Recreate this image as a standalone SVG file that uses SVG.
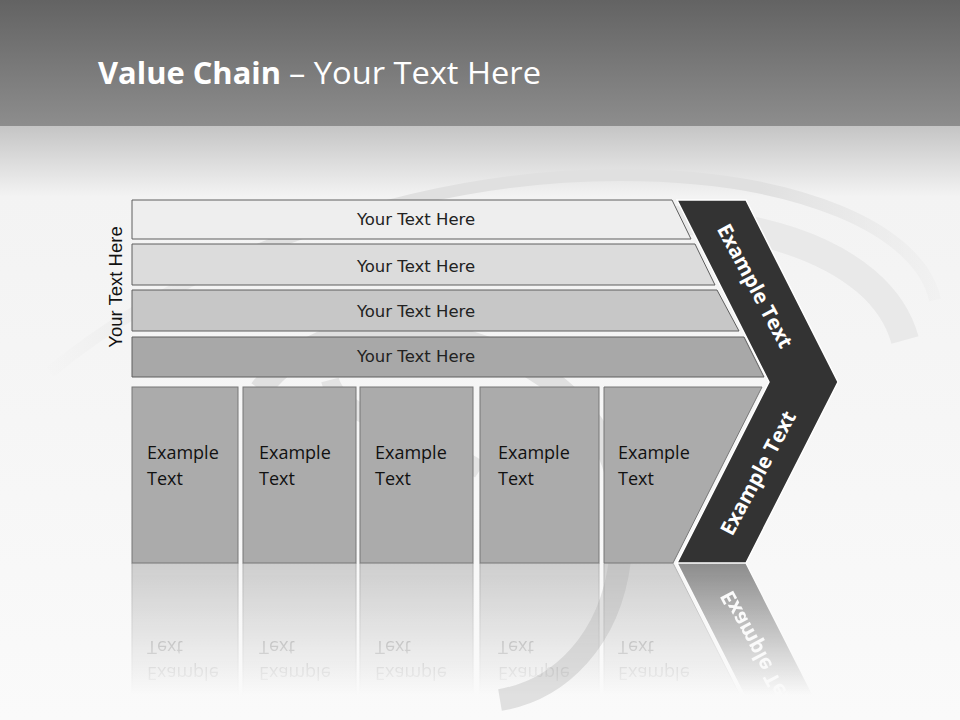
<svg xmlns="http://www.w3.org/2000/svg" xmlns:xlink="http://www.w3.org/1999/xlink" width="960" height="720" viewBox="0 0 960 720">
<defs>
<linearGradient id="hdr" x1="0" y1="0" x2="0" y2="1">
<stop offset="0" stop-color="#636363"/>
<stop offset="1" stop-color="#8d8d8d"/>
</linearGradient>
<linearGradient id="bg" x1="0" y1="125" x2="0" y2="720" gradientUnits="userSpaceOnUse">
<stop offset="0" stop-color="#c4c4c4"/>
<stop offset="0.12" stop-color="#f3f3f3"/>
<stop offset="1" stop-color="#fafafa"/>
</linearGradient>
<linearGradient id="fade" x1="0" y1="563" x2="0" y2="695" gradientUnits="userSpaceOnUse">
<stop offset="0" stop-color="#fff" stop-opacity="0.55"/>
<stop offset="1" stop-color="#fff" stop-opacity="0"/>
</linearGradient>
<linearGradient id="swirlfade" x1="40" y1="0" x2="940" y2="0" gradientUnits="userSpaceOnUse">
<stop offset="0" stop-color="#e6e6e6" stop-opacity="0"/>
<stop offset="0.25" stop-color="#e0e0e0"/>
<stop offset="0.8" stop-color="#e0e0e0"/>
<stop offset="1" stop-color="#e6e6e6" stop-opacity="0.2"/>
</linearGradient>
<mask id="refmask" maskUnits="userSpaceOnUse" x="0" y="563" width="960" height="157">
<rect x="0" y="563" width="960" height="157" fill="url(#fade)"/>
</mask>
<style>
.bar{stroke:#5e5e5e;stroke-width:1}
.box{fill:#ababab;stroke:#777;stroke-width:1}
.bt{font-family:"DejaVu Sans",Verdana,sans-serif;font-size:16.5px;fill:#222;text-anchor:middle}
.et{font-family:"Open Sans","Liberation Sans",sans-serif;font-size:18px;fill:#111}
.ct{font-family:"Open Sans","Liberation Sans",sans-serif;font-size:20.5px;font-weight:bold;fill:#fff;text-anchor:middle}
.swirl{fill:none}
</style>
</defs>
<rect x="0" y="0" width="960" height="720" fill="url(#bg)"/>
<rect x="0" y="0" width="960" height="126" fill="url(#hdr)"/>
<g id="background-swirls">
<path class="swirl" d="M 50 372 C 200 250 420 175 620 175 C 800 175 920 230 935 300" stroke="url(#swirlfade)" stroke-width="12"/>
<path class="swirl" d="M 560 222 C 740 205 880 250 905 340" stroke="#e9e9e9" stroke-width="28"/>
<path class="swirl" d="M 260 390 C 300 340 360 320 420 330 C 540 350 640 420 620 560 C 610 640 560 690 500 700" stroke="#e0e0e0" stroke-width="22"/>
<path class="swirl" d="M 330 380 C 340 420 420 430 480 470" stroke="#e3e3e3" stroke-width="18"/>
</g>
<text x="98" y="84" font-family="'Open Sans','Liberation Sans',sans-serif" font-size="31" font-weight="bold" fill="#fff" textLength="183" lengthAdjust="spacingAndGlyphs">Value Chain</text>
<text x="289" y="84" font-family="'Open Sans','Liberation Sans',sans-serif" font-size="31" fill="#fff" textLength="252" lengthAdjust="spacingAndGlyphs">– Your Text Here</text>
<text transform="translate(122,287) rotate(-90)" font-family="'Liberation Sans',Arial,sans-serif" font-size="18.5" fill="#111" text-anchor="middle">Your Text Here</text>
<g id="connectors"/>
<g id="bar-1"><polygon class="bar" fill="#eeeeee" points="132,200 672,200 691,239 132,239"/><text class="bt" x="416" y="225">Your Text Here</text></g>
<g id="bar-2"><polygon class="bar" fill="#dcdcdc" points="132,244 695,244 715,285 132,285"/><text class="bt" x="416" y="272">Your Text Here</text></g>
<g id="bar-3"><polygon class="bar" fill="#c7c7c7" points="132,290 717,290 739,331 132,331"/><text class="bt" x="416" y="317">Your Text Here</text></g>
<g id="bar-4"><polygon class="bar" fill="#a8a8a8" points="132,337 744,337 764,377 132,377"/><text class="bt" x="416" y="362">Your Text Here</text></g>
<g id="bottom-row">
<g id="box-1"><rect class="box" x="132" y="387" width="106" height="176"/><text class="et" x="147" y="459">Example</text><text class="et" x="147" y="485">Text</text></g>
<g id="box-2"><rect class="box" x="243" y="387" width="113" height="176"/><text class="et" x="259" y="459">Example</text><text class="et" x="259" y="485">Text</text></g>
<g id="box-3"><rect class="box" x="360" y="387" width="113" height="176"/><text class="et" x="375" y="459">Example</text><text class="et" x="375" y="485">Text</text></g>
<g id="box-4"><rect class="box" x="480" y="387" width="119" height="176"/><text class="et" x="498" y="459">Example</text><text class="et" x="498" y="485">Text</text></g>
<g id="box-5"><polygon class="box" points="604,387 762,387 673,563 604,563"/><text class="et" x="618" y="459">Example</text><text class="et" x="618" y="485">Text</text></g>
</g>
<g id="chevron">
<polygon points="677,200 746,200 838,382 746,563 677,563 769,382" fill="#333333" stroke="#ffffff" stroke-width="1.5"/>
<text class="ct" transform="translate(755,286) rotate(62)" dy="0.35em">Example Text</text>
<text class="ct" transform="translate(758,473) rotate(-62)" dy="0.35em">Example Text</text>
</g>
<g id="reflection" mask="url(#refmask)">
<g transform="translate(0,1126) scale(1,-1)">
<use xlink:href="#bottom-row"/>
<use xlink:href="#chevron"/>
</g>
</g>
</svg>
